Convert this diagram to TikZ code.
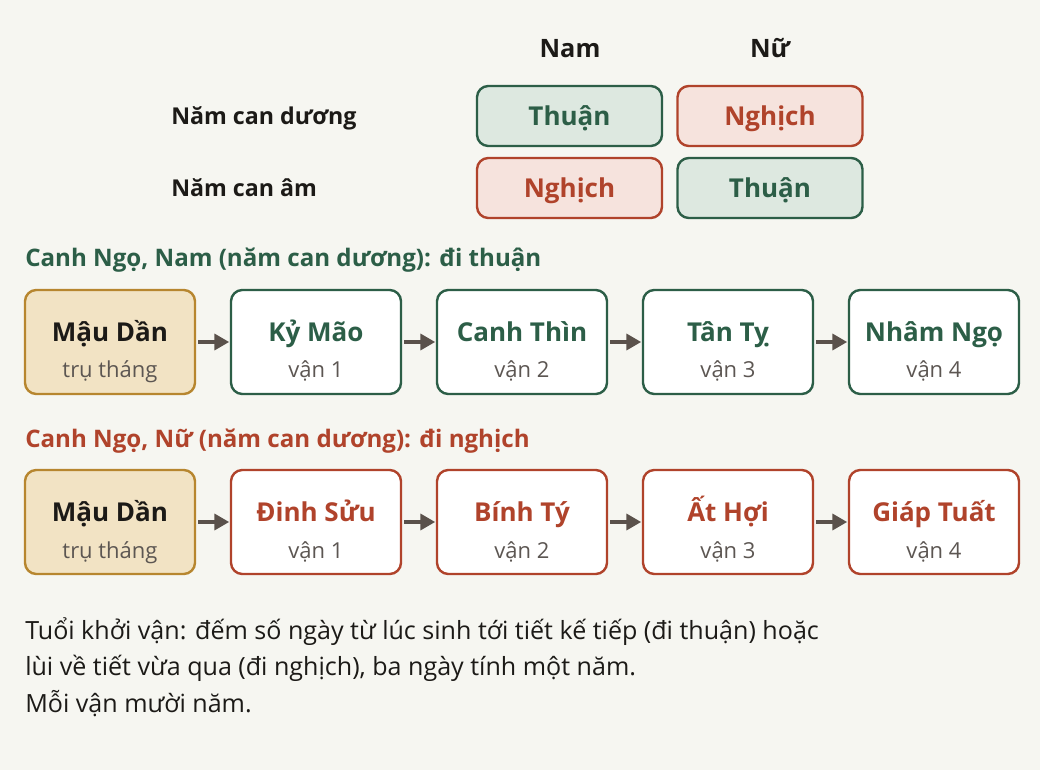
\documentclass[tikz,border=0pt]{standalone}
\usepackage{fontspec}
\setmainfont{Open Sans}
\usetikzlibrary{arrows.meta}
\definecolor{bg}{HTML}{F6F6F1}
\definecolor{grn}{HTML}{2C5E47}
\definecolor{grnfill}{HTML}{DDE8E0}
\definecolor{rd}{HTML}{B0432B}
\definecolor{rdfill}{HTML}{F6E3DD}
\definecolor{gold}{HTML}{B7862F}
\definecolor{goldfill}{HTML}{F2E3C4}
\definecolor{dark}{HTML}{1C1A17}
\definecolor{sub}{HTML}{5C5652}
\definecolor{arr}{HTML}{5A514B}
\tikzset{
  dirbox/.style={draw, line width=1.8pt, rounded corners=8.5pt, minimum width=138.75pt, minimum height=45pt, inner sep=0pt, text height=15pt, text depth=0pt, font=\bfseries\fontsize{19.5}{20}\selectfont},
  thuan/.style={dirbox, draw=grn, fill=grnfill, text=grn},
  nghich/.style={dirbox, draw=rd, fill=rdfill, text=rd},
  chain/.style={draw, line width=1.8pt, rounded corners=8.5pt, minimum width=127.5pt, minimum height=78pt, inner sep=0pt},
  gchain/.style={chain, draw=grn, fill=white},
  rchain/.style={chain, draw=rd, fill=white},
  ychain/.style={chain, draw=gold, fill=goldfill},
  ctitle/.style={font=\bfseries\fontsize{19.5}{20}\selectfont, inner sep=0pt, anchor=base},
  csub/.style={font=\fontsize{16.5}{18}\selectfont, text=sub, inner sep=0pt, anchor=base},
  hdr/.style={font=\bfseries\fontsize{19}{20}\selectfont, text=dark, inner sep=0pt, anchor=base},
  rowlab/.style={font=\bfseries\fontsize{17.4}{18}\selectfont, text=dark, anchor=base west, inner sep=0pt},
  sect/.style={font=\bfseries\fontsize{18.1}{20}\selectfont, anchor=base west, inner sep=0pt},
  foot/.style={font=\fontsize{18.8}{20}\selectfont, text=dark, anchor=base west, inner sep=0pt},
  flow/.style={draw=arr, line width=2.4pt, -{Triangle[length=11pt,width=12pt]}, shorten <=1.5pt, shorten >=0.5pt}
}
\newcommand{\chainbox}[7]{%
  \node[#4] (#1) at (#2,#3) {};
  \node[ctitle, text=#7] (#1t) at (#2,#3-1) {#5};
  \node[csub] (#1s) at (#2,#3+36) {#6};
}
\begin{document}
\begin{tikzpicture}[x=0.75pt,y=-0.75pt]
\fill[bg] (0,0) rectangle (1040,770);
\useasboundingbox (0,0) rectangle (1040,770);
% header
\node[hdr] (hnam) at (570,58) {Nam};
\node[hdr] (hnu) at (770,58) {Nữ};
\node[rowlab] (r1) at (171,125) {Năm can dương};
\node[rowlab] (r2) at (171,197) {Năm can âm};
\node[thuan] (b11) at (569.5,116) {Thuận};
\node[nghich] (b12) at (770,116) {Nghịch};
\node[nghich] (b21) at (569.5,188) {Nghịch};
\node[thuan] (b22) at (770,188) {Thuận};
% section 1
\node[sect, text=grn] (s1) at (25,267) {Canh Ngọ, Nam (năm can dương): đi thuận};
\chainbox{a0}{110}{342}{ychain}{Mậu Dần}{trụ tháng}{dark}
\chainbox{a1}{316}{342}{gchain}{Kỷ Mão}{vận 1}{grn}
\chainbox{a2}{522}{342}{gchain}{Canh Thìn}{vận 2}{grn}
\chainbox{a3}{728}{342}{gchain}{Tân Tỵ}{vận 3}{grn}
\chainbox{a4}{934}{342}{gchain}{Nhâm Ngọ}{vận 4}{grn}
\draw[flow] (a0) -- (a1);
\draw[flow] (a1) -- (a2);
\draw[flow] (a2) -- (a3);
\draw[flow] (a3) -- (a4);
% section 2
\node[sect, text=rd] (s2) at (25,447) {Canh Ngọ, Nữ (năm can dương): đi nghịch};
\chainbox{c0}{110}{522}{ychain}{Mậu Dần}{trụ tháng}{dark}
\chainbox{c1}{316}{522}{rchain}{Đinh Sửu}{vận 1}{rd}
\chainbox{c2}{522}{522}{rchain}{Bính Tý}{vận 2}{rd}
\chainbox{c3}{728}{522}{rchain}{Ất Hợi}{vận 3}{rd}
\chainbox{c4}{934}{522}{rchain}{Giáp Tuất}{vận 4}{rd}
\draw[flow] (c0) -- (c1);
\draw[flow] (c1) -- (c2);
\draw[flow] (c2) -- (c3);
\draw[flow] (c3) -- (c4);
% footer
\node[foot] (f1) at (25,639) {Tuổi khởi vận: đếm số ngày từ lúc sinh tới tiết kế tiếp (đi thuận) hoặc};
\node[foot] (f2) at (25,675) {lùi về tiết vừa qua (đi nghịch), ba ngày tính một năm.};
\node[foot] (f3) at (25,712) {Mỗi vận mười năm.};
\end{tikzpicture}
\end{document}
